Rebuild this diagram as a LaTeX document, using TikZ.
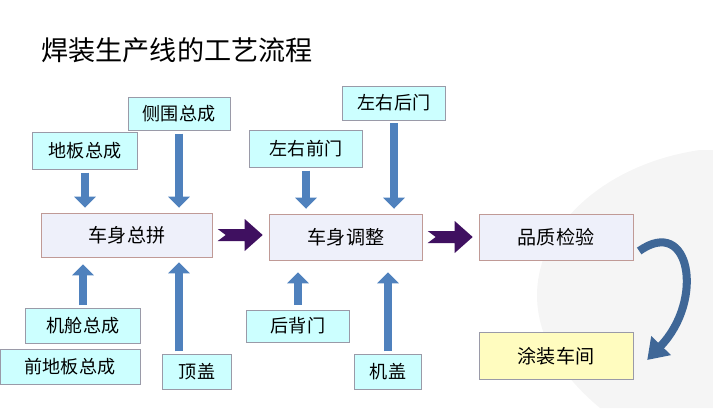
\documentclass[tikz,border=0pt]{standalone}
\usepackage{fontspec}
\setmainfont{Noto Sans CJK SC}
\usetikzlibrary{arrows.meta, positioning}
\definecolor{mainfill}{HTML}{EEF0FA}
\definecolor{mainline}{HTML}{C09A96}
\definecolor{partfill}{HTML}{CCFFFF}
\definecolor{partline}{HTML}{9A9AA8}
\definecolor{flowblue}{HTML}{4F81BD}
\definecolor{flowpurple}{HTML}{3F1060}
\tikzset{
  sz/.style 2 args={minimum width=#1*0.035cm, minimum height=#2*0.035cm, inner sep=0pt},
  stage/.style={draw=mainline, fill=mainfill, font=\fontsize{19}{21}\selectfont},
  part/.style={draw=partline, fill=partfill, font=\fontsize{18}{20}\selectfont},
  feed/.style={flowblue, line width=7pt, -{Triangle[length=11pt, width=21pt]}},
}
\begin{document}
\begin{tikzpicture}[x=0.035cm, y=-0.035cm]
		\useasboundingbox (0,0) rectangle (713,408);
		\fill[black!4] (700,150) .. controls (560,170) and (470,300) .. (600,408) -- (713,408) -- (713,150) -- cycle;
		\node[anchor=west, font=\fontsize{27}{30}\selectfont] (title) at (38,50) {焊装生产线的工艺流程};
		% main line
		\node[stage, sz={171}{44}] (czp) at (127,235) {车身总拼};
		\node[stage, sz={153}{46}] (ctz) at (346,237) {车身调整};
		\node[stage, sz={154}{46}] (pzjy) at (556,237) {品质检验};
		\node[stage, sz={154}{47}, fill=yellow!25, draw=partline] (tzcj) at (556,356) {涂装车间};
		% parts above
		\node[part, sz={105}{37}] (dbzc) at (85,151) {地板总成};
		\node[part, sz={102}{33}] (cwzc) at (179,114) {侧围总成};
		\node[part, sz={113}{37}] (qm) at (306,149) {左右前门};
		\node[part, sz={103}{34}] (hm) at (394,103) {左右后门};
		% parts below
		\node[part, sz={115}{35}] (jczc) at (83,326) {机舱总成};
		\node[part, sz={140}{35}] (qdb) at (70,367) {前地板总成};
		\node[part, sz={69}{35}] (dg) at (197,372) {顶盖};
		\node[part, sz={103}{32}] (hbm) at (298,326) {后背门};
		\node[part, sz={67}{35}] (jg) at (388,372) {机盖};
		% feeding arrows
		\draw[feed, shorten <=3pt, shorten >=5pt] (dbzc.south) -- (dbzc.south |- czp.north);
		\draw[feed, shorten <=3pt, shorten >=5pt] (cwzc.south) -- (cwzc.south |- czp.north);
		\draw[feed, shorten <=3pt, shorten >=5pt] (qm.south) -- (qm.south |- ctz.north);
		\draw[feed, shorten <=3pt, shorten >=5pt] (hm.south) -- (hm.south |- ctz.north);
		\draw[feed, shorten <=3pt, shorten >=7pt] (jczc.north) -- (jczc.north |- czp.south);
		\draw[feed, shorten <=3pt, shorten >=5pt] ([xshift=-18*0.035cm]dg.north) -- ([xshift=-18*0.035cm]dg.north |- czp.south);
		\draw[feed, shorten <=5pt, shorten >=12pt] (hbm.north) -- (hbm.north |- ctz.south);
		\draw[feed, shorten <=3pt, shorten >=12pt] (jg.north) -- (jg.north |- ctz.south);
		% flow arrows
		\foreach \a/\b in {czp/ctz, ctz/pzjy}
		  \fill[flowpurple] ([xshift=5*0.035cm]\a.east) ++(0,-6) -- ++(27,0) -- ++(0,-10) -- ++(18,16)
		    -- ++(-18,16) -- ++(0,-10) -- ++(-27,0) -- ++(8,-6) -- cycle;
		\draw[flowblue!80!black, line width=8pt, -{Triangle[length=20pt, width=26pt]}]
		  ([xshift=6*0.035cm, yshift=-14*0.035cm]pzjy.east) .. controls (690,215) and (705,300) .. ([xshift=14*0.035cm, yshift=-4*0.035cm]tzcj.east);
\end{tikzpicture}
\end{document}
